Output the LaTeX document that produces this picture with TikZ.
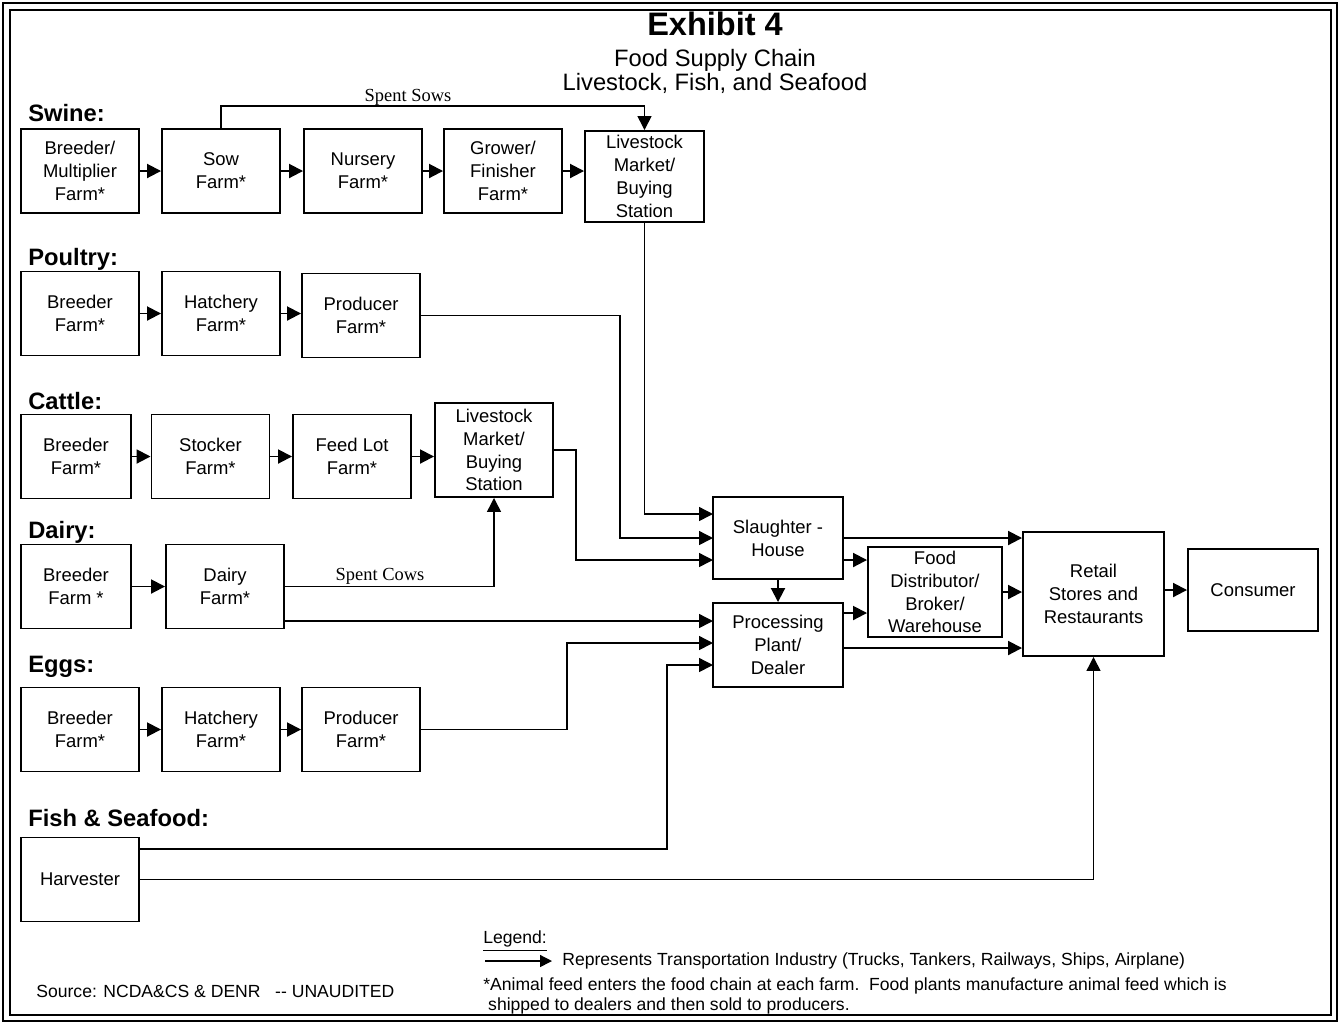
\documentclass[tikz,border=0pt]{standalone}
\usepackage{fontspec}
\setmainfont{Liberation Sans}
\newfontfamily\spentfont{Liberation Serif}
\usetikzlibrary{arrows.meta,positioning,calc}

\begin{document}
\begin{tikzpicture}[
    x=0.2mm, y=-0.2mm,
    box/.style={rectangle, draw=black, line width=1.1pt, align=center, minimum width=23.6mm, minimum height=16.8mm, inner sep=1pt, font=\fontsize{10.5}{13}\selectfont},
    group/.style={anchor=west, inner sep=0pt, font=\fontsize{13.5}{16}\selectfont\bfseries},
    note/.style={anchor=west, inner sep=0pt, align=left, font=\fontsize{10}{11.5}\selectfont},
    spent/.style={inner sep=0pt, font=\fontsize{10.5}{12}\selectfont\spentfont},
    arrow/.style={-{Triangle[length=2.8mm,width=2.8mm]}, line width=1.1pt},
    link/.style={-{Triangle[length=2.8mm,width=2.8mm]}, line width=0.8pt}
]
    \useasboundingbox (0,0) rectangle (1340,1024);
    \draw [line width=1.5pt] (3,3) rectangle (1337,1021);
    \draw [line width=1.5pt] (10,10) rectangle (1331,1015);

    \node [font=\fontsize{18.5}{20}\selectfont\bfseries] (title) at (715,24) {Exhibit 4};
    \node [align=center, font=\fontsize{13.5}{13.7}\selectfont] (subtitle) at (715,71) {Food Supply Chain\\Livestock, Fish, and Seafood};

    % swine
    \node [group] (swine) at (28,113) {Swine:};
    \node [box] (s1) at (80,171) {Breeder/\\Multiplier\\Farm*};
    \node [box] (s2) at (221,171) {Sow\\Farm*};
    \node [box] (s3) at (363,171) {Nursery\\Farm*};
    \node [box] (s4) at (503,171) {Grower/\\Finisher\\Farm*};
    \node [box, minimum width=23.8mm, minimum height=18.2mm] (s5) at (644.5,176.5) {Livestock\\Market/\\Buying\\Station};
    \draw [arrow] (s1) -- (s2);
    \draw [arrow] (s2) -- (s3);
    \draw [arrow] (s3) -- (s4);
    \draw [arrow] (s4.east) -- (s4.east -| s5.west);
    \draw [link] (s2.north) -- ++(0,-22) -| (s5.north);
    \node [spent] (sows) at (408,97) {Spent Sows};

    % poultry
    \node [group] (poultry) at (28,259) {Poultry:};
    \node [box] (p1) at (80,313.5) {Breeder\\Farm*};
    \node [box] (p2) at (221,313.5) {Hatchery\\Farm*};
    \node [box] (p3) at (361,315.5) {Producer\\Farm*};
    \draw [arrow] (p1) -- (p2);
    \draw [arrow] (p2.east) -- (p2.east -| p3.west);

    % cattle
    \node [group] (cattle) at (28,401) {Cattle:};
    \node [box, minimum width=22mm] (c1) at (76,456.5) {Breeder\\Farm*};
    \node [box] (c2) at (210.5,456.5) {Stocker\\Farm*};
    \node [box] (c3) at (352,456.5) {Feed Lot\\Farm*};
    \node [box, minimum height=18.8mm] (c4) at (494,450) {Livestock\\Market/\\Buying\\Station};
    \draw [arrow] (c1) -- (c2);
    \draw [arrow] (c2) -- (c3);
    \draw [arrow] (c3.east) -- (c3.east -| c4.west);

    % dairy
    \node [group] (dairy) at (28,532) {Dairy:};
    \node [box, minimum width=22mm] (d1) at (76,586.5) {Breeder\\Farm *};
    \node [box] (d2) at (225,586.5) {Dairy\\Farm*};
    \draw [arrow] (d1) -- (d2);
    \draw [link] (d2.east) -| (c4.south);
    \node [spent] (cows) at (380,576) {Spent Cows};

    % eggs
    \node [group] (eggs) at (28,667) {Eggs:};
    \node [box] (e1) at (80,729.5) {Breeder\\Farm*};
    \node [box] (e2) at (221,729.5) {Hatchery\\Farm*};
    \node [box] (e3) at (361,729.5) {Producer\\Farm*};
    \draw [arrow] (e1) -- (e2);
    \draw [arrow] (e2) -- (e3);

    % fish
    \node [group] (fish) at (28,818) {Fish \& Seafood:};
    \node [box] (h1) at (80,879.5) {Harvester};

    % processing chain
    \node [box, minimum width=26mm, minimum height=16.4mm] (sh) at (778,538) {Slaughter -\\House};
    \node [box, minimum width=26mm, minimum height=16.8mm] (pr) at (778,645) {Processing\\Plant/\\Dealer};
    \node [box, minimum width=26.8mm, minimum height=18mm, inner sep=0pt] (fd) at (935,592) {Food\\Distributor/\\Broker/\\Warehouse};
    \node [box, minimum width=28.2mm, minimum height=24.8mm] (rt) at (1093.5,594) {Retail\\Stores and\\Restaurants};
    \node [box, minimum width=26mm, minimum height=16.4mm] (cs) at (1253,590) {Consumer};

    \coordinate (shin1) at (713,514);
    \coordinate (shin2) at (713,538);
    \coordinate (shin3) at (713,560);
    \coordinate (pbend) at (620,538);
    \coordinate (cbend) at (576,560);
    \draw [link] (s5.south) |- (shin1);
    \draw [link] (p3.east) -| (pbend) -- (shin2);
    \draw [link] (c4.east) -| (cbend) -- (shin3);

    \coordinate (prin1) at (713,621);
    \coordinate (prin2) at (713,643);
    \coordinate (prin3) at (713,665);
    \coordinate (ebend) at (567,643);
    \coordinate (fbend) at (667,665);
    \coordinate (hout) at (139,849);
    \draw [link] (d2.east |- prin1) -- (prin1);
    \draw [link] (e3.east) -| (ebend) -- (prin2);
    \draw [link] (hout) -| (fbend) -- (prin3);
    \draw [link] (h1.east) -| (rt.south);

    \coordinate (shout) at (843,560);
    \coordinate (prout1) at (843,613);
    \coordinate (prout2) at (843,648);
    \draw [arrow] (sh.east) -- (sh.east -| rt.west);
    \draw [arrow] (shout) -- (shout -| fd.west);
    \draw [arrow] (sh) -- (pr);
    \draw [arrow] (prout1) -- (prout1 -| fd.west);
    \draw [arrow] (prout2) -- (prout2 -| rt.west);
    \draw [arrow] (fd.east) -- (fd.east -| rt.west);
    \draw [arrow] (cs.west -| rt.east) -- (cs.west);

    % legend and notes
    \node [note] (legend) at (483,941) {\underline{Legend:}};
    \coordinate (lga) at (485,961);
    \coordinate (lgb) at (552,961);
    \draw [-{Triangle[length=2.4mm,width=2.4mm]}, line width=0.8pt] (lga) -- (lgb);
    \node [note] (transport) at (562,961) {Represents Transportation Industry (Trucks, Tankers, Railways, Ships, Airplane)};
    \node [note, anchor=north west] (feed) at (483,977) {*Animal feed enters the food chain at each farm.\ \ Food plants manufacture animal feed which is\\\ shipped to dealers and then sold to producers.};
    \node [note] (source) at (36,991) {Source: NCDA\&CS \& DENR\ \ \ -{}- UNAUDITED};
\end{tikzpicture}
\end{document}
